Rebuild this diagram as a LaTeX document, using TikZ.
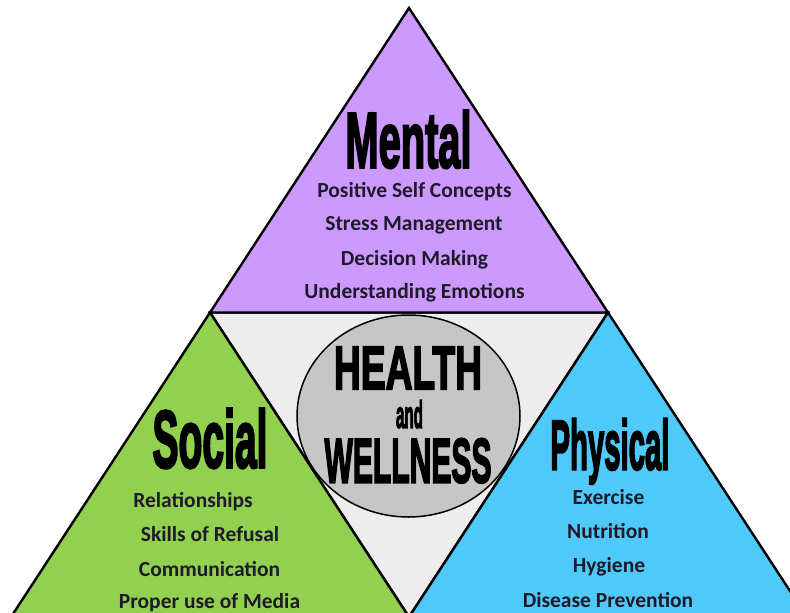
\documentclass[tikz,border=0pt]{standalone}
\usepackage{fontspec}
\usepackage{graphicx}
\usetikzlibrary{shapes.geometric}
\setmainfont{Carlito}
\newfontfamily\heavyfont{Liberation Sans}[FakeBold=3.5]
\definecolor{mentalc}{HTML}{CC99FF}
\definecolor{socialc}{HTML}{92D050}
\definecolor{physc}{HTML}{4FC9F9}
\definecolor{centerc}{HTML}{EDEDED}
\definecolor{ovalc}{HTML}{C6C6C6}
\definecolor{txtc}{HTML}{1E1A2A}
\newcommand\heavy[3]{\resizebox{#1pt}{#2pt}{\heavyfont\bfseries #3}}
\begin{document}
\begin{tikzpicture}[x=1pt,y=-1pt,
  tri/.style={draw=black, line width=2.4pt, line join=miter},
  item/.style={font=\fontsize{21.5}{24}\selectfont\bfseries, text=txtc, anchor=base, inner sep=0pt},
  title/.style={anchor=base, inner sep=0pt}]
\useasboundingbox (0,0) rectangle (790,613);
\clip (0,0) rectangle (790,613);
\fill[white] (0,0) rectangle (790,613);
\coordinate (apex) at (409,8);
\coordinate (bl) at (11,617);
\coordinate (br) at (807,617);
\coordinate (ml) at (210,312.5);
\coordinate (mr) at (608,312.5);
\coordinate (mb) at (409,617);
\filldraw[tri, fill=centerc] (ml) -- (mr) -- (mb) -- cycle;
\filldraw[tri, fill=socialc] (ml) -- (mb) -- (bl) -- cycle;
\filldraw[tri, fill=physc] (mr) -- (br) -- (mb) -- cycle;
\filldraw[tri, fill=mentalc] (apex) -- (ml) -- (mr) -- cycle;
\node (hub) [draw=black, line width=1.5pt, fill=ovalc, ellipse, minimum width=223pt, minimum height=202pt, inner sep=0pt] at (408.5,416) {};
% titles
\node (mental) [title] at (408.5,167.5) {\heavy{126}{57}{Mental}};
\node (social) [title] at (210,467.5) {\heavy{115}{59}{Social}};
\node (physical) [title] at (610,469.5) {\heavy{119}{51}{Physical}};
\node (health) [title] at (408,389) {\heavy{148}{42}{HEALTH}};
\node (and) [title] at (409.5,428) {\heavy{27}{28}{and}};
\node (wellness) [title] at (408,482.5) {\heavy{167}{44}{WELLNESS}};
% mental items
\node (m1) [item] at (414.5,197) {Positive Self Concepts};
\node (m2) [item] at (414,230.5) {Stress Management};
\node (m3) [item] at (414.5,265.5) {Decision Making};
\node (m4) [item] at (414.5,298) {Understanding Emotions};
% social items
\node (s1) [item] at (193,507) {Relationships};
\node (s2) [item] at (210,541) {Skills of Refusal};
\node (s3) [item] at (209.5,576) {Communication};
\node (s4) [item] at (209.5,608) {Proper use of Media};
% physical items
\node (p1) [item] at (608.5,504) {Exercise};
\node (p2) [item] at (608,538) {Nutrition};
\node (p3) [item] at (609,572) {Hygiene};
\node (p4) [item] at (608,607) {Disease Prevention};
\end{tikzpicture}
\end{document}
